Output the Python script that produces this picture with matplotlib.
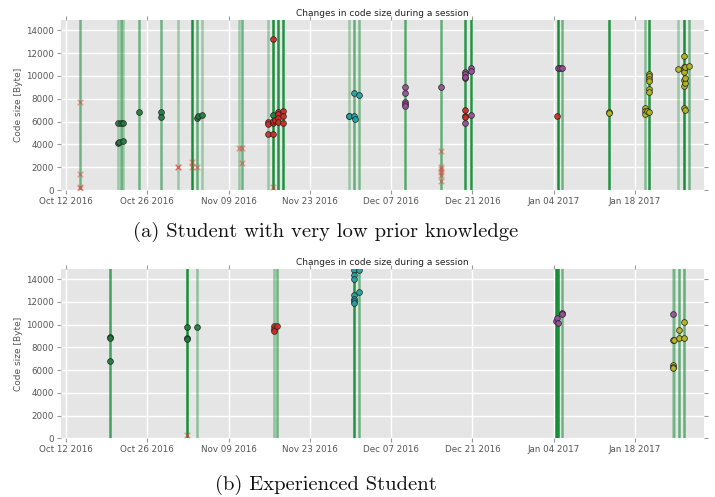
import matplotlib
matplotlib.use("Agg")
import matplotlib.pyplot as plt
import matplotlib.dates as mdates
import pandas as pd

START = pd.Timestamp("2016-10-12")
tick_dates = ["2016-10-12", "2016-10-26", "2016-11-09", "2016-11-23",
              "2016-12-07", "2016-12-21", "2017-01-04", "2017-01-18"]
yticks = [0, 2000, 4000, 6000, 8000, 10000, 12000, 14000]

# ---- panel (a): student with very low prior knowledge (days after Oct 12 2016) ----
a_lines_day = [2.41, 8.90, 9.41, 9.86, 12.62, 16.35, 19.33, 21.74, 22.60, 23.36,
               29.78, 30.34, 34.82, 35.68, 36.54, 37.40, 48.70, 49.57, 50.48,
               58.35, 64.54, 68.67, 69.76, 84.73, 85.42, 93.51, 99.71, 100.40,
               105.39, 106.42, 107.28]
a_lines_alpha = [0.55, 0.35, 0.55, 0.35, 0.55, 0.55, 0.35, 0.95, 0.6, 0.35,
                 0.35, 0.55, 0.35, 0.95, 0.9, 0.9, 0.35, 0.6, 0.5,
                 0.65, 0.6, 0.85, 0.9, 0.95, 0.55, 0.9, 0.45, 0.9,
                 0.35, 0.95, 0.55]

a_green_day = [8.90, 9.47, 9.76, 8.90, 9.20, 9.76, 12.62, 16.35, 16.35, 22.55, 22.75, 23.35, 35.68]
a_green_val = [5830, 5830, 5880, 4150, 4230, 4270, 6850, 6830, 6360, 6300, 6450, 6550, 6560]

a_red_day = [34.82, 34.82, 34.82, 35.68, 35.68, 35.68, 35.68, 36.00, 36.54, 36.54, 36.54,
             36.54, 37.40, 37.40, 37.40, 68.67, 68.67, 68.67, 84.60]
a_red_val = [5980, 5750, 4900, 4900, 13270, 5900, 6050, 6100, 6850, 6650, 6300,
             5950, 6910, 6500, 5870, 6970, 6500, 6400, 6500]

a_x_day = [2.41, 2.41, 2.41, 2.41, 19.33, 19.33, 21.74, 21.74, 22.60, 29.78, 30.34,
           30.34, 35.68, 64.54, 64.54, 64.54, 64.54, 64.54, 64.54]
a_x_val = [7700, 1430, 260, 200, 2040, 1980, 2000, 2480, 2040, 3650, 3650,
           2360, 290, 3410, 2040, 1800, 1550, 1310, 815]

a_teal_day = [48.70, 48.70, 49.57, 49.57, 49.80, 50.48]
a_teal_val = [6500, 6450, 6500, 8460, 6190, 8330]

a_purple_day = [58.35, 58.35, 58.35, 58.35, 58.35, 64.54, 68.67, 68.67, 68.67, 68.67,
                68.67, 69.76, 69.76, 69.76, 84.70, 85.10, 85.42]
a_purple_val = [9040, 8490, 7670, 7500, 7350, 9040, 10350, 10200, 9830, 9900,
                5890, 10700, 10400, 6560, 10700, 10700, 10700]

a_olive_day = [93.51, 93.51, 99.71, 99.71, 99.71, 100.10, 100.40, 100.40, 100.40, 100.40,
               100.40, 100.40, 100.40, 105.39, 106.42, 106.42, 106.42, 106.42, 106.42,
               106.42, 106.42, 106.60, 106.60, 106.60, 106.60, 107.28]
a_olive_val = [6800, 6750, 7200, 6900, 6620, 6900, 6870, 10200, 9950, 9700,
               9540, 8840, 8600, 10640, 11760, 10760, 10500, 10300, 9620,
               9130, 7150, 10800, 9390, 9800, 7000, 10850]

# ---- panel (b): experienced student ----
b_lines_day = [7.52, 20.88, 22.50, 35.85, 36.37, 49.57, 50.48, 84.45, 84.73, 85.42,
               104.48, 104.73, 105.56, 106.42]
b_lines_alpha = [0.75, 0.95, 0.4, 0.4, 0.55, 0.9, 0.55, 0.95, 0.95, 0.55,
                 0.35, 0.35, 0.6, 0.6]

b_green_day = [7.52, 7.52, 7.52, 20.88, 20.88, 20.88, 22.50]
b_green_val = [8920, 8850, 6780, 9770, 8860, 8750, 9770]

b_red_day = [35.85, 35.85, 35.85, 36.37]
b_red_val = [9890, 9650, 9420, 9890]

b_x_day = [20.88]
b_x_val = [320]

b_teal_day = [49.57, 49.57, 49.57, 49.57, 49.57, 49.57, 49.57, 50.48, 50.48]
b_teal_val = [14800, 14400, 14050, 12600, 12300, 12100, 11950, 12900, 14800]

b_purple_day = [84.45, 84.60, 84.73, 85.42, 85.42, 104.48]
b_purple_val = [10300, 10590, 10180, 11030, 10950, 10970]

b_olive_day = [104.48, 104.73, 104.48, 104.48, 104.48, 105.56, 105.56, 106.42, 106.42]
b_olive_val = [8630, 8680, 6430, 6300, 6190, 9560, 8830, 10240, 8860]


def to_dates(days):
    return START + pd.to_timedelta(days, unit="D")


LINE_COLOR = "#0a8a2e"
COLORS = {"green": "#1f7a3c", "red": "#d42a20", "teal": "#1fa5a8",
          "purple": "#9b4f9e", "olive": "#b8b81e"}


def draw(ax, lines_day, lines_alpha, series, x_day, x_val):
    ax.set_facecolor("#E5E5E5")
    for d, a in zip(lines_day, lines_alpha):
        ax.axvline(to_dates([d])[0], color=LINE_COLOR, alpha=a, lw=1.8, zorder=2)
    for name, (days, vals) in series.items():
        ax.scatter(to_dates(days), vals, s=17, c=COLORS[name], edgecolors="#222222",
                   linewidths=0.6, alpha=0.9, zorder=3)
    ax.scatter(to_dates(x_day), x_val, marker="x", s=16, c="#e8332a", alpha=0.45,
               linewidths=1.0, zorder=3)
    ax.set_xlim(START + pd.Timedelta(days=-0.86), START + pd.Timedelta(days=109.9))
    ax.set_ylim(0, 14900)
    ax.set_yticks(yticks)
    ax.set_xticks(pd.to_datetime(tick_dates))
    ax.xaxis.set_major_formatter(mdates.DateFormatter("%b %d %Y"))
    ax.grid(True, color="white", lw=1.0, zorder=0)
    ax.set_axisbelow(True)
    for s in ax.spines.values():
        s.set_visible(False)
    ax.tick_params(axis="both", which="both", direction="out", length=3,
                   color="#999999", labelcolor="#555555", labelsize=6.3,
                   top=True, right=True, pad=2)
    ax.set_title("Changes in code size during a session", fontsize=6.5,
                 color="#222222", pad=3)
    ax.set_ylabel("Code size [Byte]", fontsize=6.5, color="#555555", labelpad=2)


fig = plt.figure(figsize=(7.15, 4.97), dpi=100)
ax1 = fig.add_axes([0.0853, 0.6177, 0.8993, 0.3421])
ax2 = fig.add_axes([0.0853, 0.1181, 0.8993, 0.3407])

draw(ax1, a_lines_day, a_lines_alpha,
     {"green": (a_green_day, a_green_val), "red": (a_red_day, a_red_val),
      "teal": (a_teal_day, a_teal_val), "purple": (a_purple_day, a_purple_val),
      "olive": (a_olive_day, a_olive_val)}, a_x_day, a_x_val)
draw(ax2, b_lines_day, b_lines_alpha,
     {"green": (b_green_day, b_green_val), "red": (b_red_day, b_red_val),
      "teal": (b_teal_day, b_teal_val), "purple": (b_purple_day, b_purple_val),
      "olive": (b_olive_day, b_olive_val)}, b_x_day, b_x_val)

cap_font = ["cmr10", "DejaVu Serif"]
fig.text(0.456, 0.523, "(a) Student with very low prior knowledge", ha="center",
         va="baseline", fontsize=14.8, family=cap_font, color="#111111")
fig.text(0.456, 0.014, "(b) Experienced Student", ha="center",
         va="baseline", fontsize=14.8, family=cap_font, color="#111111")

fig.savefig("out.png", dpi=100)
